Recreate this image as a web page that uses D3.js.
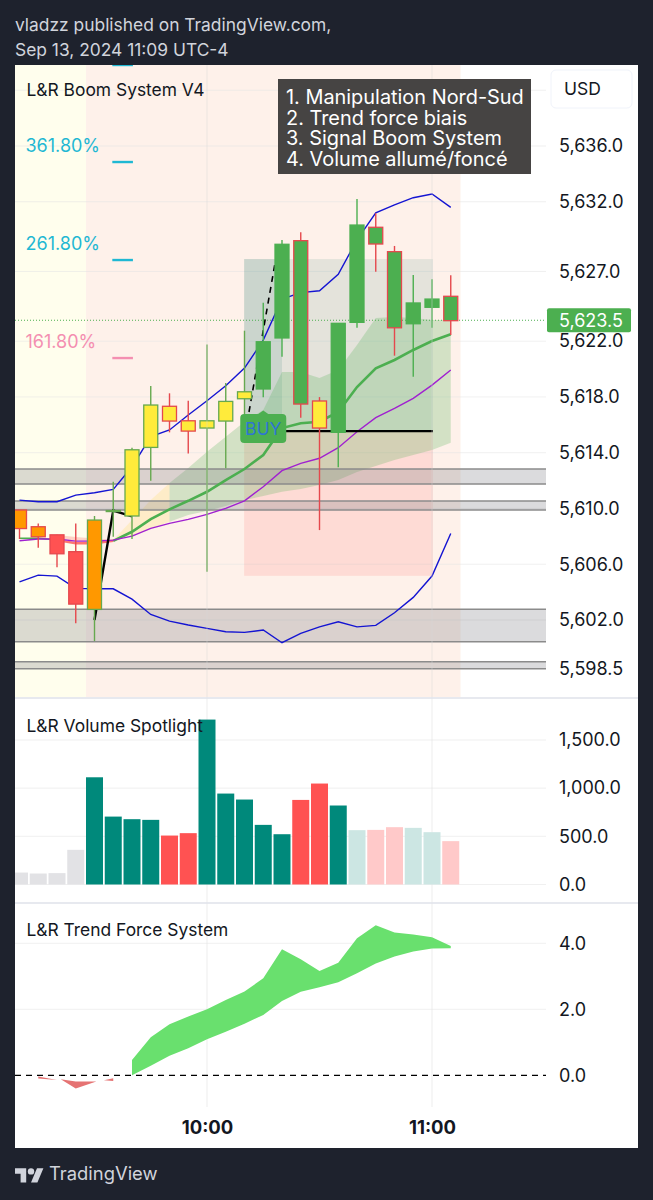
<!DOCTYPE html>
<html><head><meta charset="utf-8">
<style>
html,body{margin:0;padding:0;background:#1e222d;}
svg{display:block;font-family:Inter,"Noto Sans",sans-serif;}
</style>
<script src="https://cdn.jsdelivr.net/npm/d3@7/dist/d3.min.js"></script>
</head><body><svg id="c" width="653" height="1200"></svg>
<script>
// ---- data ----
const barIndex = d3.range(24);
const open_  = [5609.89,5608.69,5608.11,5606.90,5609.17,5609.85,5614.21,5617.42,5617.33,5616.29,5616.29,5617.68,5618.37,5621.96,5628.95,5629.21,5617.71,5623.28,5630.33,5630.17,5628.42,5624.74,5625.02,5625.22];
const close_ = [5608.56,5607.97,5606.75,5603.14,5602.76,5609.78,5609.46,5614.38,5616.27,5615.55,5615.77,5616.27,5617.87,5618.57,5622.23,5617.49,5615.77,5615.46,5623.35,5628.97,5622.96,5623.25,5624.43,5623.47];
const high_  = [5609.89,5608.93,5608.11,5608.93,5609.46,5611.92,5614.36,5618.78,5618.26,5617.73,5621.77,5619.00,5622.75,5624.76,5629.26,5629.81,5617.99,5623.28,5632.20,5631.17,5628.83,5626.75,5626.44,5626.72];
const low_   = [5607.81,5607.18,5605.78,5601.76,5600.49,5607.97,5607.81,5611.99,5615.46,5613.95,5605.46,5612.88,5615.98,5617.97,5620.88,5616.51,5608.45,5612.95,5622.96,5626.98,5620.96,5619.45,5622.96,5622.44];
const bodyColor = ["#ff9800","#ff9800","#ff5252","#ff5252","#ff9800","#4caf50","#ffeb3b","#ffeb3b","#ffeb3b","#ffeb3b","#ffeb3b","#ffeb3b","#ffeb3b","#4caf50","#4caf50","#4caf50","#ffeb3b","#4caf50","#4caf50","#4caf50","#4caf50","#4caf50","#4caf50","#4caf50"];
const edgeColor = ["#e5484d","#e5484d","#e5484d","#e5484d","#66a84f","#66a84f","#66a84f","#66a84f","#e5484d","#e5484d","#66a84f","#66a84f","#66a84f","#4caf50","#4caf50","#e5484d","#e5484d","#4caf50","#4caf50","#e5484d","#e5484d","#4caf50","#4caf50","#e5484d"];
const upperBand = [5610.60,5610.48,5610.48,5610.96,5611.13,5611.37,5612.99,5615.15,5615.63,5616.70,5617.73,5618.80,5620.07,5622.08,5625.02,5625.48,5625.62,5626.80,5629.26,5631.21,5631.77,5632.29,5632.56,5631.60];
const lowerBand = [5604.74,5605.22,5605.15,5604.27,5604.24,5604.24,5603.50,5602.40,5601.92,5601.64,5601.40,5601.16,5601.11,5601.28,5600.37,5601.04,5601.51,5601.87,5601.51,5601.61,5602.52,5603.62,5605.15,5608.21];
const fastMA = [5607.86,5607.86,5607.73,5607.50,5607.50,5607.68,5608.33,5609.24,5609.94,5610.55,5611.20,5612.04,5612.83,5613.83,5615.77,5616.11,5616.22,5616.92,5618.71,5620.05,5620.65,5621.37,5622.01,5622.49];
const slowMA = [5607.68,5607.81,5607.81,5607.66,5607.66,5607.73,5608.02,5608.57,5608.93,5609.22,5609.58,5610.01,5610.55,5611.56,5612.71,5613.24,5613.60,5614.36,5615.50,5616.51,5617.18,5617.90,5618.85,5619.93];
const cloudTop = [5607.73,5609.17,5610.60,5611.82,5612.90,5614.07,5615.15,5616.22,5617.06,5619.79,5619.79,5619.36,5619.93,5621.72,5623.66,5623.73,5623.66,5623.52,5623.52];
const cloudBottom = [5607.73,5608.02,5608.57,5609.05,5609.53,5609.82,5610.17,5610.60,5610.89,5611.20,5611.39,5611.68,5612.04,5612.61,5613.04,5613.47,5613.83,5614.19,5614.71];
const cloudStart = 5;
const redBandTop = [5608.10,5607.96,5607.84,5607.73];
const redBandStart = 2;
const zones = [[5612.83,5611.75],[5610.53,5609.89],[5602.78,5600.44],[5599.00,5598.50]];
const fibLevels = [5641.81,5634.85,5627.82,5620.79];
const fibColors = ["#1fb8d3","#1fb8d3","#1fb8d3","#f48fb1"];
const fibLabels = ["","361.80%","261.80%","161.80%"];
const swingX = [4,5,6];
const swingY = [5602.0,5609.85,5609.44];
const dashX = [12.24,13.63];
const dashY = [5616.92,5627.61];
const entry = 5615.55, target = 5627.89, stop = 5605.17, lastPrice = 5623.5;
const priceTicks = [5636,5632,5627,5622,5618,5614,5610,5606,5602,5598.5];
const priceGrid = [5640,5636,5632,5627,5622,5618,5614,5610,5606,5602];
const volume = [124,114,118,360,1113,705,678,671,508,533,1712,944,882,619,522,878,1048,820,564,567,595,588,543,450];
const volColor = ["#e2e2e5","#e2e2e5","#e2e2e5","#e2e2e5","#00897b","#00897b","#00897b","#00897b","#ff5252","#ff5252","#00897b","#00897b","#00897b","#00897b","#00897b","#ff5252","#ff5252","#00897b","#cce6e3","#ffc9c9","#ffc9c9","#cce6e3","#cce6e3","#ffc9c9"];
const volTicks = [0,500,1000,1500];
const forceUpper = [0.46,1.15,1.55,1.78,2.00,2.28,2.54,2.94,3.82,3.52,3.16,3.41,4.15,4.55,4.33,4.27,4.18,3.92];
const forceLower = [0,0.29,0.59,0.82,1.09,1.32,1.56,1.83,2.25,2.53,2.67,2.82,3.09,3.39,3.60,3.75,3.84,3.85];
const forceStart = 6;
const forceRed = [
  {i:[1,2],u:[-0.04,-0.14],l:[-0.10,-0.14]},
  {i:[2.2,3,4.1],u:[-0.12,-0.19,-0.19],l:[-0.12,-0.40,-0.19]},
  {i:[4.5,5],u:[-0.15,-0.09],l:[-0.15,-0.17]}
];
const forceTicks = [0,2,4];
const timeTicks = [10,22];
const timeLabels = ["10:00","11:00"];
const noteLines = ["1. Manipulation Nord-Sud","2. Trend force biais","3. Signal Boom System","4. Volume allumé/foncé"];
const headerLines = ["vladzz published on TradingView.com,","Sep 13, 2024 11:09 UTC-4"];

// ---- layout ----
const svg = d3.select("#c");
const L = 15, R = 638, PR = 546, T = 65;
const x = d3.scaleLinear().domain([0,23]).range([19.5,450.75]);
const y = d3.scaleLinear().domain([5636,5602]).range([146,620]);
const yV = d3.scaleLinear().domain([0,1500]).range([884.5,740]);
const yF = d3.scaleLinear().domain([0,4]).range([1075.3,943.3]);
const TXT = "#131722";
const TS = 17.4, AS = 18;

svg.selectAll("text.h").data(headerLines).join("text").attr("class","h")
  .attr("x",15).attr("y",(d,i)=>31+i*25).attr("fill","#d1d4dc").attr("font-size",17.4).text(d=>d);
svg.append("rect").attr("x",L).attr("y",T).attr("width",R-L).attr("height",1083).attr("fill","#fff");

const defs = svg.append("defs");
defs.append("clipPath").attr("id","pp").append("rect").attr("x",L).attr("y",T).attr("width",PR-L).attr("height",632);

// session backgrounds
const pane = svg.append("g").attr("clip-path","url(#pp)");
pane.append("rect").attr("x",L).attr("y",T).attr("width",x(3.55)-L).attr("height",632).attr("fill","#fffeed");
pane.append("rect").attr("x",x(3.55)).attr("y",T).attr("width",x(23.52)-x(3.55)).attr("height",632).attr("fill","#fef1ea");

// grids
function hgrid(vals,sc,g){ g.selectAll("line.g").data(vals).join("line").attr("class","g")
  .attr("x1",L).attr("x2",PR).attr("y1",d=>sc(d)).attr("y2",d=>sc(d)).attr("stroke","#e3e3e3").attr("stroke-opacity",.55).attr("stroke-width",1);}
hgrid(priceGrid,y,pane);
svg.selectAll("line.v").data(timeTicks).join("line").attr("class","v")
  .attr("x1",d=>x(d)).attr("x2",d=>x(d)).attr("y1",T).attr("y2",1107).attr("stroke","#d8d8d8").attr("stroke-opacity",.45);
const gV = svg.append("g"), gF = svg.append("g");
hgrid(volTicks,yV,gV); hgrid(forceTicks.slice(1),yF,gF);

// pane separators
svg.selectAll("line.s").data([698,903]).join("line").attr("class","s")
  .attr("x1",L).attr("x2",R).attr("y1",d=>d).attr("y2",d=>d).attr("stroke","#dfe2ea").attr("stroke-width",1.5);

// trade tool
pane.append("rect").attr("x",x(11.98)).attr("width",x(14)-x(11.98)).attr("y",y(target)).attr("height",y(entry)-y(target)).attr("fill","#00695c").attr("fill-opacity",.2);
pane.append("rect").attr("x",x(14)).attr("width",x(22.05)-x(14)).attr("y",y(target)).attr("height",y(entry)-y(target)).attr("fill","#00695c").attr("fill-opacity",.1);
pane.append("rect").attr("x",x(11.98)).attr("width",x(22.05)-x(11.98)).attr("y",y(entry)).attr("height",y(stop)-y(entry)).attr("fill","#ff2020").attr("fill-opacity",.1);

// cloud
const areaC = d3.area().x(d=>x(d.i)).y0(d=>y(d.b)).y1(d=>y(d.t));
const cloud = cloudTop.map((t,k)=>({i:k+cloudStart,t,b:cloudBottom[k]}));
pane.append("path").attr("d",areaC(cloud.filter(d=>d.i<=8))).attr("fill","#ffe27a").attr("fill-opacity",.3);
pane.append("path").attr("d",areaC(cloud.filter(d=>d.i>=8))).attr("fill","#4caf50").attr("fill-opacity",.24);
pane.append("path").attr("d",areaC(redBandTop.map((t,k)=>({i:k+redBandStart,t,b:slowMA[k+redBandStart]}))))
  .attr("fill","#ff5252").attr("fill-opacity",.25);

// zones
const zg = pane.selectAll("g.z").data(zones).join("g").attr("class","z");
zg.append("rect").attr("x",L).attr("width",PR-L).attr("y",d=>y(d[0])).attr("height",d=>y(d[1])-y(d[0])).attr("fill","#7e7e84").attr("fill-opacity",.28);
zg.selectAll("line").data(d=>d).join("line").attr("x1",L).attr("x2",PR).attr("y1",d=>y(d)).attr("y2",d=>y(d)).attr("stroke","#8b8b8b").attr("stroke-width",1.5);

// last price line
pane.append("line").attr("x1",L).attr("x2",PR).attr("y1",y(lastPrice)).attr("y2",y(lastPrice)).attr("stroke","#4caf50").attr("stroke-width",1).attr("stroke-dasharray","1 2");

// lines
const line = d3.line().x((d,i)=>x(i)).y(d=>y(d));
const lineXY = d3.line().x(d=>x(d[0])).y(d=>y(d[1]));
function seg(a,from,to){return d3.range(from,to+1).map(i=>[i,a[i]]);}
pane.append("path").attr("d",line(upperBand)).attr("fill","none").attr("stroke","#1414d2").attr("stroke-width",1.4);
pane.append("path").attr("d",line(lowerBand)).attr("fill","none").attr("stroke","#1414d2").attr("stroke-width",1.4);
pane.append("path").attr("d",lineXY(seg(fastMA,0,2))).attr("fill","none").attr("stroke","#4caf50").attr("stroke-width",1.5);
pane.append("path").attr("d",lineXY(seg(fastMA,2,5))).attr("fill","none").attr("stroke","#ff5252").attr("stroke-width",2.5).attr("stroke-opacity",.8);
pane.append("path").attr("d",lineXY(seg(fastMA,5,23))).attr("fill","none").attr("stroke","#4caf50").attr("stroke-width",2.6);
pane.append("path").attr("d",line(slowMA)).attr("fill","none").attr("stroke","#a020d0").attr("stroke-width",1.4);

// drawings
pane.append("path").attr("d",lineXY(swingX.map((v,i)=>[v,swingY[i]]))).attr("fill","none").attr("stroke","#000").attr("stroke-width",2.4);
pane.append("path").attr("d",lineXY(dashX.map((v,i)=>[v,dashY[i]]))).attr("fill","none").attr("stroke","#000").attr("stroke-width",1.6).attr("stroke-dasharray","6 5");
pane.append("line").attr("x1",x(12.2)).attr("x2",x(22.05)).attr("y1",y(entry)).attr("y2",y(entry)).attr("stroke","#000").attr("stroke-width",2.2);

// fib ticks + labels
pane.selectAll("line.f").data(fibLevels).join("line").attr("class","f")
  .attr("x1",x(4.95)).attr("x2",x(6.05)).attr("y1",d=>y(d)).attr("y2",d=>y(d)).attr("stroke",(d,i)=>fibColors[i]).attr("stroke-width",2.4);
pane.selectAll("text.f").data(fibLevels).join("text").attr("class","f")
  .attr("x",25.5).attr("y",d=>y(d)-16).attr("dy",".35em").attr("fill",(d,i)=>fibColors[i]).attr("font-size",18).text((d,i)=>fibLabels[i]);

// candles
const cg = pane.selectAll("g.c").data(barIndex).join("g").attr("class","c");
cg.append("line").attr("x1",i=>x(i)).attr("x2",i=>x(i)).attr("y1",i=>y(high_[i])).attr("y2",i=>y(low_[i])).attr("stroke",i=>edgeColor[i]).attr("stroke-width",1.4);
cg.append("rect").attr("x",i=>x(i)-7).attr("width",14)
  .attr("y",i=>y(Math.max(open_[i],close_[i]))).attr("height",i=>Math.max(1,Math.abs(y(open_[i])-y(close_[i]))))
  .attr("fill",i=>bodyColor[i]).attr("stroke",i=>edgeColor[i]).attr("stroke-width",1.3);

// BUY label
const bx = x(13), by = y(entry);
pane.append("path").attr("d",`M${bx-23+4},${by-17}H${bx-5}L${bx},${by-20.5}L${bx+5},${by-17}H${bx+23-4}Q${bx+23},${by-17} ${bx+23},${by-13}V${by+8}Q${bx+23},${by+12} ${bx+23-4},${by+12}H${bx-19}Q${bx-23},${by+12} ${bx-23},${by+8}V${by-13}Q${bx-23},${by-17} ${bx-19},${by-17}Z`).attr("fill","#4caf50");
pane.append("text").attr("x",bx).attr("y",by-2.5).attr("dy",".36em").attr("text-anchor","middle").attr("fill","#2e75d4").attr("font-size",17.5).text("BUY");

// note box
svg.append("rect").attr("x",278).attr("y",79).attr("width",253).attr("height",95).attr("fill","#464443");
svg.selectAll("text.n").data(noteLines).join("text").attr("class","n").attr("x",286).attr("y",(d,i)=>97+i*20.6).attr("dy",".36em")
  .attr("fill","#fff").attr("font-size",19.9).text(d=>d);

// volume bars
svg.selectAll("rect.v").data(barIndex).join("rect").attr("class","v")
  .attr("x",i=>Math.max(L,x(i)-8.5)).attr("width",i=>x(i)+8.5-Math.max(L,x(i)-8.5)).attr("y",i=>yV(volume[i])).attr("height",i=>yV(0)-yV(volume[i])).attr("fill",i=>volColor[i]);

// pane titles
svg.selectAll("text.t").data([["L&R Boom System V4",90],["L&R Volume Spotlight",726],["L&R Trend Force System",930]]).join("text").attr("class","t")
  .attr("x",26.5).attr("y",d=>d[1]).attr("dy",".36em").attr("fill",TXT).attr("font-size",TS).text(d=>d[0]);

// trend force
const areaF = d3.area().x(d=>x(d.i)).y0(d=>yF(d.l)).y1(d=>yF(d.u));
svg.append("path").attr("d",areaF(forceUpper.map((u,k)=>({i:k+forceStart,u,l:forceLower[k]})))).attr("fill","#69e06e");
svg.selectAll("path.r").data(forceRed).join("path").attr("class","r")
  .attr("d",s=>areaF(s.i.map((v,k)=>({i:v,u:s.u[k],l:s.l[k]})))).attr("fill","#e57373");
svg.append("line").attr("x1",L).attr("x2",PR).attr("y1",yF(0)).attr("y2",yF(0)).attr("stroke","#000").attr("stroke-width",1.3).attr("stroke-dasharray","6 5");

// axes
function rightAxis(sc,vals,fmt){
  const g = svg.append("g").attr("transform","translate(559,0)")
    .call(d3.axisRight(sc).tickValues(vals).tickFormat(fmt).tickSize(0).tickPadding(0));
  g.select(".domain").remove();
  g.selectAll("text").attr("fill",TXT).attr("font-size",AS).attr("font-family","Inter,'Noto Sans',sans-serif");
  return g;
}
rightAxis(y,priceTicks,d3.format(",.1f"));
rightAxis(yV,volTicks,d3.format(",.1f"));
rightAxis(yF,forceTicks,d3.format(".1f"));
const xa = svg.append("g").attr("transform","translate(0,1109)")
  .call(d3.axisBottom(x).tickValues(timeTicks).tickFormat((d,i)=>timeLabels[i]).tickSize(0).tickPadding(12));
xa.select(".domain").remove();
xa.selectAll("text").attr("fill",TXT).attr("font-size",18.5).attr("font-weight",700).attr("font-family","Inter,'Noto Sans',sans-serif");

// price tag
const tag = svg.append("g");
tag.append("rect").attr("x",547).attr("y",y(lastPrice)-12).attr("width",84).attr("height",24).attr("rx",2).attr("fill","#4caf50");
tag.append("text").attr("x",559).attr("y",y(lastPrice)).attr("dy",".36em").attr("fill","#fff").attr("font-size",AS).text(d3.format(",.1f")(lastPrice));

// USD
svg.append("rect").attr("x",551).attr("y",70).attr("width",81).attr("height",38).attr("rx",5).attr("fill","#fff").attr("stroke","#f0f3fa");
svg.append("text").attr("x",564).attr("y",89).attr("dy",".36em").attr("fill",TXT).attr("font-size",17.5).text("USD");

// footer logo
const lg = svg.append("g").attr("transform","translate(15,1165) scale(0.8)").attr("fill","#d1d4dc");
lg.append("path").attr("d","M14 22H7V11H0V4h14v18zM28 22h-8l7.5-18h8L28 22z");
lg.append("circle").attr("cx",20).attr("cy",8).attr("r",4);
svg.append("text").attr("x",49).attr("y",1173).attr("dy",".36em").attr("fill","#d1d4dc").attr("font-size",18.4).text("TradingView");
</script></body></html>
